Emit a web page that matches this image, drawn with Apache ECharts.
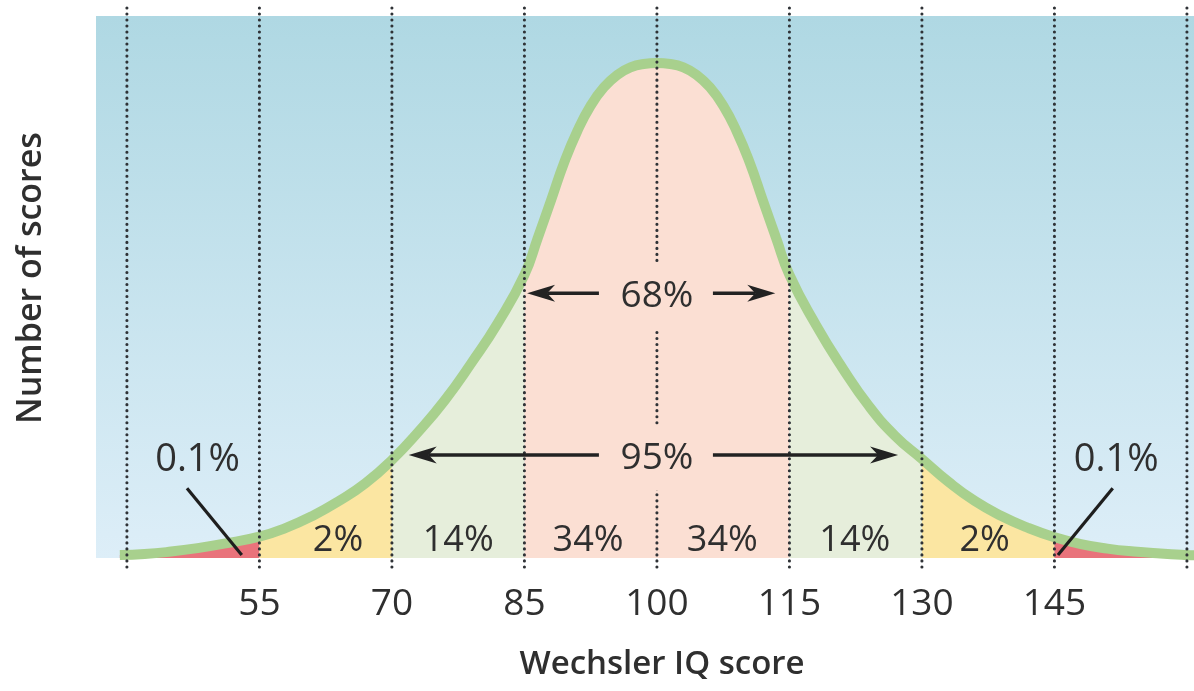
<!DOCTYPE html>
<html><head><meta charset="utf-8">
<script src="https://cdn.jsdelivr.net/npm/echarts@6/dist/echarts.min.js"></script>
<style>html,body{margin:0;padding:0;background:#fff}#c{width:1194px;height:691px}</style>
</head><body><div id="c"></div>
<script>
// IQ score (x) and relative number of scores (peak = 100)
const scores = [39.2, 42, 45, 48, 51, 55, 58, 61, 64, 67, 70, 73, 76, 79, 82, 85, 86.5, 88, 89.5, 91, 92.5, 94, 95.5, 97, 98.5, 100,
  101.5, 103, 104.5, 106, 107.5, 109, 110.5, 112, 113.5, 115, 118, 121, 124, 127, 130, 133, 136, 139, 142, 145, 148, 151, 154, 157, 160, 161.5];
const counts = [0.6, 0.8, 1.3, 2.0, 2.9, 4.3, 6.1, 8.5, 11.5, 15.1, 19.8, 25.5, 31.9, 39.4, 47.5, 57.2, 64.6, 72.2, 79.9, 86.3, 91.4, 95.1, 97.6, 99.1, 99.8, 100,
  99.8, 99.1, 97.6, 95.1, 91.4, 86.3, 79.9, 72.2, 64.6, 57.2, 47.1, 38.4, 30.7, 24.6, 20.0, 15.4, 11.5, 8.5, 6.1, 4.2, 2.8, 1.9, 1.3, 0.9, 0.6, 0.5];
const bandEdges = [39.2, 55, 70, 85, 115, 130, 145, 161.5];
const bandColors = ['#e9737b', '#fbe6a2', '#e6eedb', '#fbdfd3', '#e6eedb', '#fbe6a2', '#e9737b'];
const tickValues = [55, 70, 85, 100, 115, 130, 145];
const guideValues = [40, 55, 70, 85, 100, 115, 130, 145, 160];
const bandLabels = ['2%', '14%', '34%', '34%', '14%', '2%'];
const bandLabelX = [63.9, 77.5, 92.2, 107.4, 122.4, 137.1];
const bandLabelY = 3.4;
const arrowLabels = ['68%', '95%'];
const arrowFrom = [85.3, 71.9];
const arrowTo = [113.4, 127.3];
const arrowLevel = [53.5, 20.8];
const arrowLabelX = 100;
const tailLabels = ['0.1%', '0.1%'];
const tailLabelX = [48.0, 152.0];
const tailLabelY = 19.8;
const leaderFrom = [[46.8, 14.1], [151.6, 14.1]];
const leaderTo = [[53.0, 0.6], [145.4, 0.6]];

const curve = scores.map((s, i) => [s, counts[i]]);
const FONT = '"Open Sans", "Noto Sans", sans-serif';
const TXT = '#2f2f2f';
const SMOOTH = 0.5;

const fillSeries = bandColors.map((c, b) => ({
  type: 'line', smooth: SMOOTH, showSymbol: false, silent: true, z: 1,
  lineStyle: { width: 0 }, areaStyle: { color: c, opacity: 1 },
  data: curve.filter(p => p[0] >= bandEdges[b] && p[0] <= bandEdges[b + 1])
}));

const chart = echarts.init(document.getElementById('c'), null, { renderer: 'canvas' });
chart.setOption({
  animation: false,
  grid: {
    left: 96, right: 0, top: 16, bottom: 133, show: true, borderWidth: 0,
    backgroundColor: new echarts.graphic.LinearGradient(0, 0, 0, 1, [
      { offset: 0, color: '#afd8e3' }, { offset: 1, color: '#ddeef8' }])
  },
  xAxis: {
    type: 'value', min: 36.5, max: 160.8,
    axisLine: { show: false }, axisTick: { show: false }, splitLine: { show: false },
    axisLabel: { customValues: tickValues, fontFamily: FONT, fontSize: 37, color: TXT, margin: 28 },
    name: 'Wechsler IQ score', nameLocation: 'middle', nameGap: 90,
    nameTextStyle: { fontFamily: FONT, fontSize: 33, fontWeight: 600, color: TXT, padding: [0, 0, 0, 34] }
  },
  yAxis: { type: 'value', min: 0, max: 109.5, show: false },
  graphic: [{
    type: 'text', x: 31, y: 278, rotation: Math.PI / 2,
    style: { text: 'Number of scores', font: '600 34px ' + FONT, fill: TXT, align: 'center', verticalAlign: 'middle' }
  }],
  series: [
    ...fillSeries,
    {
      type: 'line', smooth: SMOOTH, showSymbol: false, silent: true, z: 2,
      lineStyle: { color: '#a8d08d', width: 10 }, data: curve
    },
    {
      type: 'custom', z: 3, silent: true,
      data: guideValues.map(v => [v, 0]),
      renderItem: (p, api) => {
        const x = api.coord([api.value(0), 0])[0];
        const yb = api.coord([api.value(0), 0])[1];
        const yt = api.coord([api.value(0), 109.5])[1];
        return { type: 'line', shape: { x1: x, y1: yt - 8, x2: x, y2: yb + 9 },
          style: { stroke: '#2f3236', lineWidth: 3.1, lineDash: [0.01, 6], lineCap: 'round' } };
      }
    },
    {
      type: 'custom', z: 4, silent: true,
      data: arrowFrom.map((f, i) => [f, arrowTo[i], arrowLevel[i]]),
      encode: { x: [0, 1], y: 2 },
      renderItem: (p, api) => {
        const a = api.coord([api.value(0), api.value(2)]);
        const b = api.coord([api.value(1), api.value(2)]);
        const c = api.coord([arrowLabelX, api.value(2)]);
        const L = 28, W = 8.5, N = 20;
        return { type: 'group', children: [
          { type: 'line', shape: { x1: a[0] + N, y1: a[1], x2: b[0] - N, y2: b[1] }, style: { stroke: '#222', lineWidth: 3.4 } },
          { type: 'polygon', shape: { points: [[a[0], a[1]], [a[0] + L, a[1] - W], [a[0] + N, a[1]], [a[0] + L, a[1] + W]] }, style: { fill: '#222' } },
          { type: 'polygon', shape: { points: [[b[0], b[1]], [b[0] - L, b[1] - W], [b[0] - N, b[1]], [b[0] - L, b[1] + W]] }, style: { fill: '#222' } },
          { type: 'rect', shape: { x: c[0] - 58, y: c[1] - 30, width: 114, height: 65 }, style: { fill: '#fbdfd3' } },
          { type: 'text', style: { x: c[0], y: c[1] + 3, text: arrowLabels[p.dataIndex], font: '37px ' + FONT, fill: TXT, align: 'center', verticalAlign: 'middle' } }
        ] };
      }
    },
    {
      type: 'custom', z: 4, silent: true,
      data: bandLabelX.map(x => [x, bandLabelY]),
      renderItem: (p, api) => {
        const c = api.coord([api.value(0), api.value(1)]);
        return { type: 'text', style: { x: c[0], y: c[1], text: bandLabels[p.dataIndex], font: '36px ' + FONT, fill: TXT, align: 'center', verticalAlign: 'middle' } };
      }
    },
    {
      type: 'custom', z: 4, silent: true,
      data: tailLabelX.map(x => [x, tailLabelY]),
      renderItem: (p, api) => {
        const i = p.dataIndex;
        const c = api.coord([api.value(0), api.value(1)]);
        const s = api.coord(leaderFrom[i]);
        const e = api.coord(leaderTo[i]);
        return { type: 'group', children: [
          { type: 'text', style: { x: c[0], y: c[1], text: tailLabels[i], font: '38px ' + FONT, fill: TXT, align: 'center', verticalAlign: 'middle' } },
          { type: 'line', shape: { x1: s[0], y1: s[1], x2: e[0], y2: e[1] }, style: { stroke: '#1e1e1e', lineWidth: 3.2 } }
        ] };
      }
    }
  ]
});
</script></body></html>
